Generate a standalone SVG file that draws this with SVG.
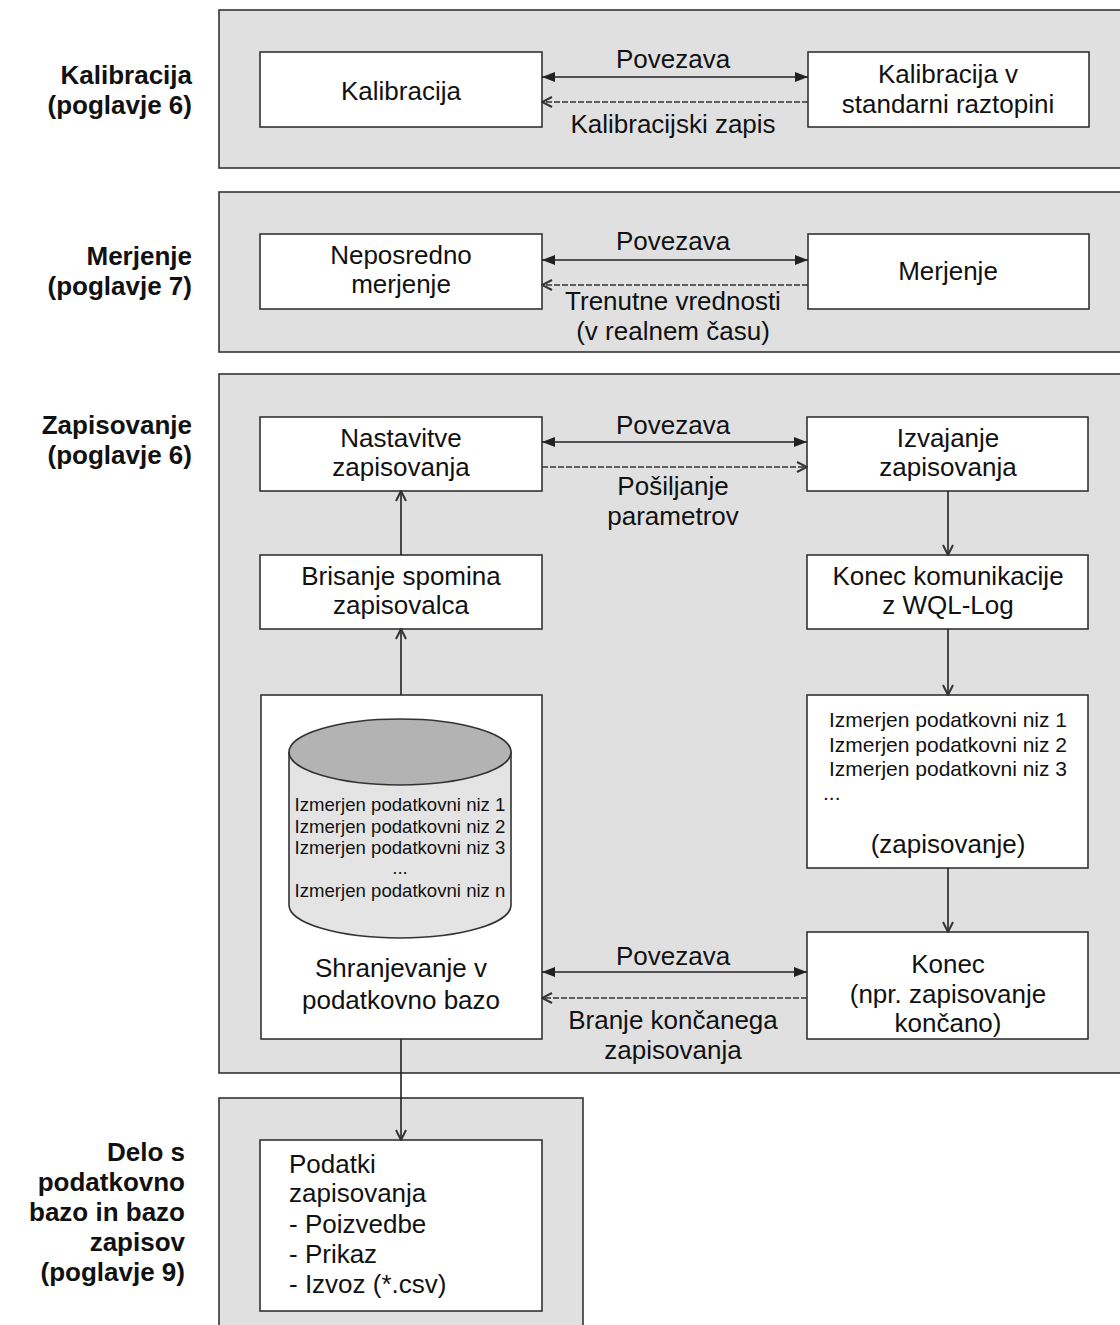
<svg xmlns="http://www.w3.org/2000/svg" width="1120" height="1325" viewBox="0 0 1120 1325">
<defs>
<style>
.panel{fill:#e0e0e0;stroke:#333;stroke-width:1.6}
.box{fill:#fff;stroke:#333;stroke-width:1.6}
.t{font-family:"Liberation Sans",Arial,sans-serif;font-size:26px;fill:#111;text-anchor:middle}
.s{font-family:"Liberation Sans",Arial,sans-serif;font-size:18.6px;fill:#111;text-anchor:middle}
.m{font-family:"Liberation Sans",Arial,sans-serif;font-size:21px;fill:#111;text-anchor:middle}
.lbl{font-family:"Liberation Sans",Arial,sans-serif;font-size:26px;font-weight:bold;fill:#111;text-anchor:end}
.solid{stroke:#222;stroke-width:1.6;fill:none}
.dash{stroke:#333;stroke-width:1.6;fill:none;stroke-dasharray:6 2}
</style>
<marker id="fa" viewBox="0 0 13 10" refX="13" refY="5" markerWidth="13" markerHeight="10" markerUnits="userSpaceOnUse" orient="auto-start-reverse">
<path d="M0,0 L13,5 L0,10 Z" fill="#222"/>
</marker>
<marker id="oa" viewBox="0 0 12 12" refX="11" refY="6" markerWidth="12" markerHeight="12" markerUnits="userSpaceOnUse" orient="auto-start-reverse">
<path d="M1,1 L11,6 L1,11" fill="none" stroke="#333" stroke-width="2"/>
</marker>
</defs>
<rect width="1120" height="1325" fill="#fff"/>

<g id="panels">
<rect class="panel" x="219" y="10" width="906" height="158"/>
<rect class="panel" x="219" y="192" width="906" height="160"/>
<rect class="panel" x="219" y="374" width="906" height="699"/>
<rect class="panel" x="219" y="1098" width="364" height="240"/>
</g>

<g id="labels">
<text class="lbl" x="192" y="84">Kalibracija</text>
<text class="lbl" x="192" y="114">(poglavje 6)</text>
<text class="lbl" x="192" y="265">Merjenje</text>
<text class="lbl" x="192" y="295">(poglavje 7)</text>
<text class="lbl" x="192" y="434">Zapisovanje</text>
<text class="lbl" x="192" y="464">(poglavje 6)</text>
<text class="lbl" x="185" y="1161">Delo s</text>
<text class="lbl" x="185" y="1191">podatkovno</text>
<text class="lbl" x="185" y="1221">bazo in bazo</text>
<text class="lbl" x="185" y="1251">zapisov</text>
<text class="lbl" x="185" y="1281">(poglavje 9)</text>
</g>

<g id="node-kalibracija">
<rect class="box" x="260" y="52" width="282" height="75"/>
<text class="t" x="401" y="100">Kalibracija</text>
</g>
<g id="node-kalibracija-std">
<rect class="box" x="808" y="52" width="281" height="75"/>
<text class="t" x="948" y="83">Kalibracija v</text>
<text class="t" x="948" y="113">standarni raztopini</text>
</g>

<g id="node-neposredno">
<rect class="box" x="260" y="234" width="282" height="75"/>
<text class="t" x="401" y="264">Neposredno</text>
<text class="t" x="401" y="293">merjenje</text>
</g>
<g id="node-merjenje">
<rect class="box" x="808" y="234" width="281" height="75"/>
<text class="t" x="948" y="280">Merjenje</text>
</g>

<g id="node-nastavitve">
<rect class="box" x="260" y="417" width="282" height="74"/>
<text class="t" x="401" y="447">Nastavitve</text>
<text class="t" x="401" y="476">zapisovanja</text>
</g>
<g id="node-izvajanje">
<rect class="box" x="807" y="417" width="281" height="74"/>
<text class="t" x="948" y="447">Izvajanje</text>
<text class="t" x="948" y="476">zapisovanja</text>
</g>
<g id="node-brisanje">
<rect class="box" x="260" y="555" width="282" height="74"/>
<text class="t" x="401" y="585">Brisanje spomina</text>
<text class="t" x="401" y="614">zapisovalca</text>
</g>
<g id="node-konec-kom">
<rect class="box" x="807" y="555" width="281" height="74"/>
<text class="t" x="948" y="585">Konec komunikacije</text>
<text class="t" x="948" y="614">z WQL-Log</text>
</g>

<g id="node-baza">
<rect class="box" x="261" y="695" width="281" height="344"/>
<path d="M289,752 L289,905 A111,33 0 0 0 511,905 L511,752" fill="#e4e4e4" stroke="#333" stroke-width="1.6"/>
<ellipse cx="400" cy="752" rx="111" ry="33" fill="#b3b3b3" stroke="#333" stroke-width="1.6"/>
<text class="s" x="400" y="811">Izmerjen podatkovni niz 1</text>
<text class="s" x="400" y="833">Izmerjen podatkovni niz 2</text>
<text class="s" x="400" y="854">Izmerjen podatkovni niz 3</text>
<text class="s" x="400" y="874">...</text>
<text class="s" x="400" y="897">Izmerjen podatkovni niz n</text>
<text class="t" x="401" y="977">Shranjevanje v</text>
<text class="t" x="401" y="1009">podatkovno bazo</text>
</g>

<g id="node-nizi">
<rect class="box" x="807" y="695" width="281" height="173"/>
<text class="m" x="948" y="727">Izmerjen podatkovni niz 1</text>
<text class="m" x="948" y="752">Izmerjen podatkovni niz 2</text>
<text class="m" x="948" y="776">Izmerjen podatkovni niz 3</text>
<text class="m" x="823" y="800" style="text-anchor:start">...</text>
<text class="t" x="948" y="853">(zapisovanje)</text>
</g>

<g id="node-konec">
<rect class="box" x="807" y="932" width="281" height="107"/>
<text class="t" x="948" y="973">Konec</text>
<text class="t" x="948" y="1003">(npr. zapisovanje</text>
<text class="t" x="948" y="1032">končano)</text>
</g>

<g id="node-podatki">
<rect class="box" x="260" y="1140" width="282" height="171"/>
<text class="t" x="289" y="1173" style="text-anchor:start">Podatki</text>
<text class="t" x="289" y="1202" style="text-anchor:start">zapisovanja</text>
<text class="t" x="289" y="1233" style="text-anchor:start">- Poizvedbe</text>
<text class="t" x="289" y="1263" style="text-anchor:start">- Prikaz</text>
<text class="t" x="289" y="1293" style="text-anchor:start">- Izvoz (*.csv)</text>
</g>

<g id="connectors">
<line class="solid" x1="542" y1="77" x2="808" y2="77" marker-start="url(#fa)" marker-end="url(#fa)"/>
<line class="dash" x1="808" y1="102" x2="542" y2="102" marker-end="url(#oa)"/>
<line class="solid" x1="542" y1="260" x2="808" y2="260" marker-start="url(#fa)" marker-end="url(#fa)"/>
<line class="dash" x1="808" y1="285" x2="542" y2="285" marker-end="url(#oa)"/>
<line class="solid" x1="542" y1="442" x2="807" y2="442" marker-start="url(#fa)" marker-end="url(#fa)"/>
<line class="dash" x1="542" y1="467" x2="807" y2="467" marker-end="url(#oa)"/>
<line class="solid" x1="542" y1="972" x2="807" y2="972" marker-start="url(#fa)" marker-end="url(#fa)"/>
<line class="dash" x1="807" y1="998" x2="542" y2="998" marker-end="url(#oa)"/>
<line class="solid" x1="401" y1="555" x2="401" y2="491" marker-end="url(#oa)"/>
<line class="solid" x1="401" y1="695" x2="401" y2="629" marker-end="url(#oa)"/>
<line class="solid" x1="948" y1="491" x2="948" y2="555" marker-end="url(#oa)"/>
<line class="solid" x1="948" y1="629" x2="948" y2="695" marker-end="url(#oa)"/>
<line class="solid" x1="948" y1="868" x2="948" y2="932" marker-end="url(#oa)"/>
<line class="solid" x1="401" y1="1039" x2="401" y2="1140" marker-end="url(#oa)"/>
</g>

<g id="connector-labels">
<text class="t" x="673" y="68">Povezava</text>
<text class="t" x="673" y="133">Kalibracijski zapis</text>
<text class="t" x="673" y="250">Povezava</text>
<text class="t" x="673" y="310">Trenutne vrednosti</text>
<text class="t" x="673" y="340">(v realnem času)</text>
<text class="t" x="673" y="434">Povezava</text>
<text class="t" x="673" y="495">Pošiljanje</text>
<text class="t" x="673" y="525">parametrov</text>
<text class="t" x="673" y="965">Povezava</text>
<text class="t" x="673" y="1029">Branje končanega</text>
<text class="t" x="673" y="1059">zapisovanja</text>
</g>
</svg>
